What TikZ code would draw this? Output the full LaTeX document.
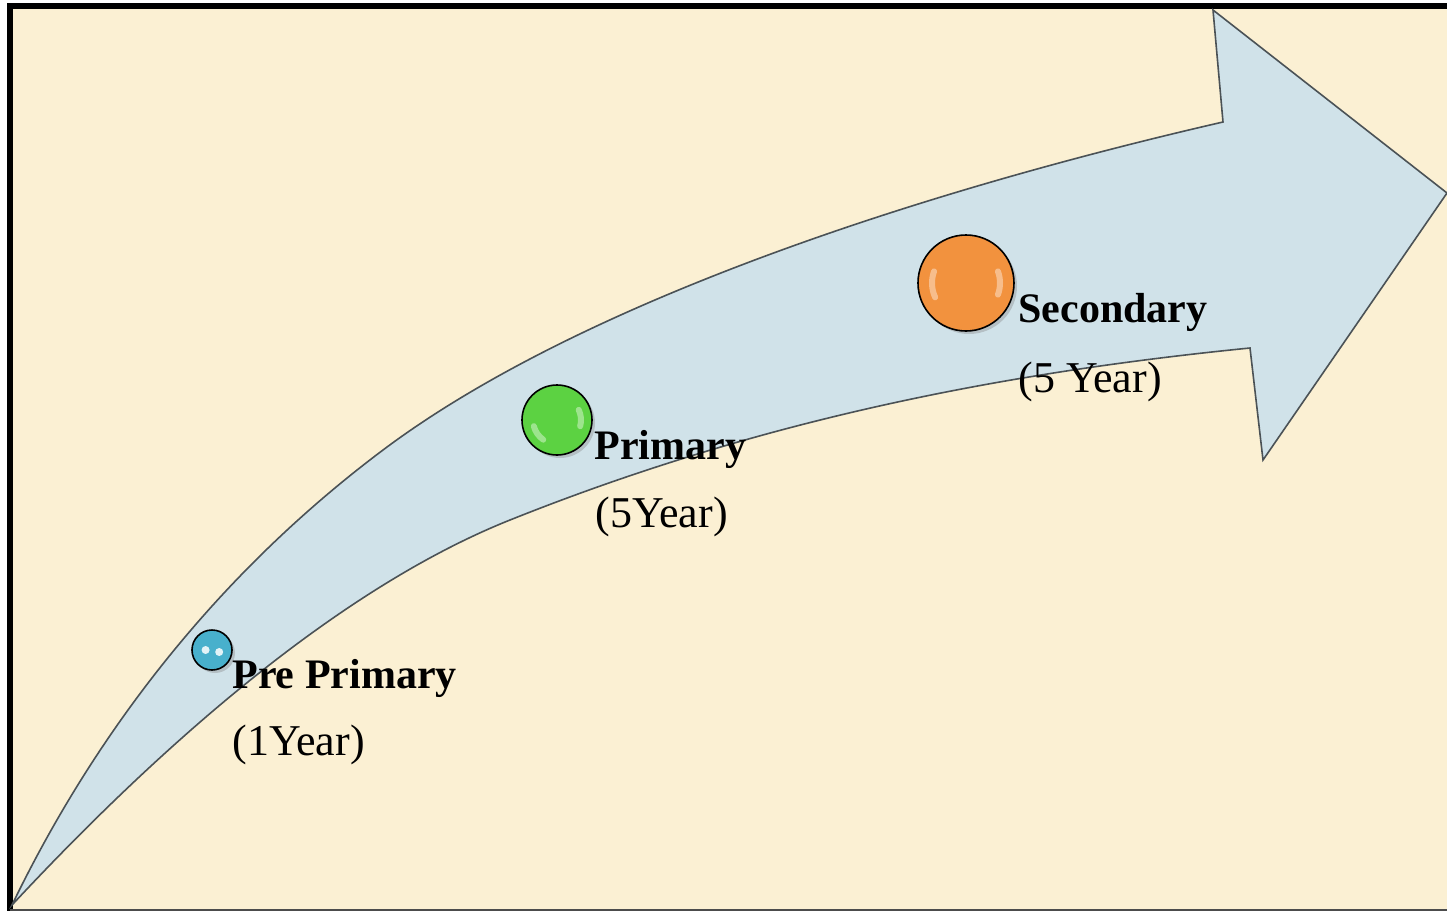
\documentclass[tikz,border=0pt]{standalone}
\usepackage{fontspec}
\setmainfont{Liberation Serif}
\usepackage{tikz}
\usetikzlibrary{shadows}
\definecolor{parchment}{RGB}{251, 240, 211}
\definecolor{arrowblue}{RGB}{208, 226, 233}
\definecolor{arrowline}{RGB}{75, 82, 86}
\definecolor{ballteal}{RGB}{72, 176, 204}
\definecolor{ballgreen}{RGB}{92, 210, 66}
\definecolor{ballorange}{RGB}{242, 146, 62}

\tikzset{
  ball/.style={circle, draw=black, line width=0.8pt, inner sep=0pt,
    drop shadow={shadow xshift=1.5pt, shadow yshift=-1.5pt, opacity=.35}},
  gloss/.style={white, opacity=.4, line width=3pt, line cap=round},
  stage/.style={font=\fontsize{21}{25}\selectfont\bfseries, inner sep=0pt, anchor=base west},
  span/.style={font=\fontsize{22}{26}\selectfont, inner sep=0pt, anchor=base west}
}

\begin{document}
\begin{tikzpicture}[x=0.5pt, y=-0.5pt]
  \useasboundingbox (0,0) rectangle (1447,911);
  \fill[white] (0,0) rectangle (1447,911);
  \fill[parchment] (10,6) rectangle (1447,911);
  % frame
  \draw[black, line width=3pt] (10,911) -- (10,6) -- (1447,6);
  \draw[black!70, line width=1pt] (10,910) -- (1447,910);

  % the curved arrow
  \draw[fill=arrowblue, draw=arrowline, line width=0.8pt, line join=miter]
    (12,905) .. controls (99,725) and (223,570) .. (383,450)
    .. controls (583,300) and (931,189) .. (1223,122)
    -- (1213,10) -- (1447,193) -- (1263,460) -- (1250,348)
    .. controls (1000,373) and (760,420) .. (510,520)
    .. controls (330,592) and (148,759) .. cycle;

  % stages
  \node[ball, fill=ballteal, minimum size=20pt] (pre) at (212,650) {};
  \fill[white, opacity=.85] ([shift={(-3.2pt,0pt)}]pre.center) circle (2pt);
  \fill[white, opacity=.85] ([shift={(3.6pt,-1pt)}]pre.center) circle (2pt);

  \node[ball, fill=ballgreen, minimum size=35pt] (prim) at (557,420) {};
  \draw[gloss] ([shift={(195:12pt)}]prim.center) arc[start angle=195, end angle=235, radius=12pt];
  \draw[gloss] ([shift={(-15:12pt)}]prim.center) arc[start angle=-15, end angle=25, radius=12pt];

  \node[ball, fill=ballorange, minimum size=48pt] (sec) at (966,283) {};
  \draw[gloss] ([shift={(160:17pt)}]sec.center) arc[start angle=160, end angle=205, radius=17pt];
  \draw[gloss] ([shift={(-20:17pt)}]sec.center) arc[start angle=-20, end angle=20, radius=17pt];

  % labels
  \node[stage] (prelbl) at (232,688) {Pre Primary};
  \node[span] (preyr) at (232,755) {(1Year)};
  \node[stage] (primlbl) at (594,459) {Primary};
  \node[span] (primyr) at (595,527) {(5Year)};
  \node[stage] (seclbl) at (1018,322) {Secondary};
  \node[span] (secyr) at (1018,392) {(5 Year)};
\end{tikzpicture}
\end{document}
